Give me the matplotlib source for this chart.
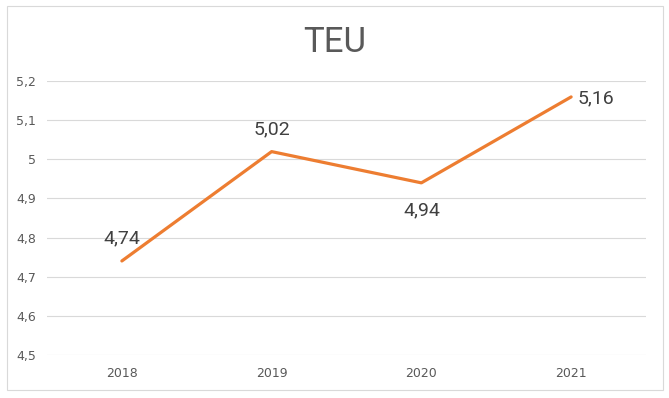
import matplotlib.pyplot as plt
from matplotlib.patches import Rectangle

# data
years = ['2018', '2019', '2020', '2021']
teu = [4.74, 5.02, 4.94, 5.16]
labels = ['4,74', '5,02', '4,94', '5,16']
yticks = [4.5, 4.6, 4.7, 4.8, 4.9, 5.0, 5.1, 5.2]
ytick_labels = ['4,5', '4,6', '4,7', '4,8', '4,9', '5', '5,1', '5,2']

narrow = ['Liberation Sans Narrow', 'Roboto', 'DejaVu Sans']

fig = plt.figure(figsize=(6.69, 3.98), dpi=100)
ax = fig.add_axes([47 / 669, 43.3 / 398, 599 / 669, 273.4 / 398])

x = list(range(len(years)))
ax.plot(x, teu, color='#ED7D31', linewidth=2.3, solid_capstyle='round')

ax.set_xlim(-0.5, len(years) - 0.5)
ax.set_ylim(4.5, 5.2)
ax.set_yticks(yticks)
ax.set_yticklabels(ytick_labels)
ax.set_xticks(x)
ax.set_xticklabels(years)
ax.tick_params(length=0, labelsize=9, colors='#595959', pad=9)
ax.tick_params(axis='y', pad=8)
ax.grid(axis='y', color='#D9D9D9', linewidth=0.8)
ax.set_axisbelow(True)
for s in ax.spines.values():
    s.set_visible(False)

# data labels: left-above, above, below, right
offsets = [(0, 16), (0, 16), (0, -20), (18, -1)]
for xi, yi, lab, (dx, dy) in zip(x, teu, labels, offsets):
    ax.annotate(lab, (xi, yi), xytext=(dx, dy), textcoords='offset points',
                ha='center', va='center', fontsize=14, color='#404040',
                family=narrow)

fig.text(0.5, 1 - 42 / 398, 'TEU', ha='center', va='center',
         fontsize=25, color='#595959', family=narrow)

# chart border
fig.patches.append(Rectangle((7 / 669, 8 / 398), 656 / 669, 384 / 398,
                             transform=fig.transFigure, fill=False,
                             edgecolor='#D9D9D9', linewidth=0.8))

fig.savefig('out.png', dpi=100, facecolor='white')
